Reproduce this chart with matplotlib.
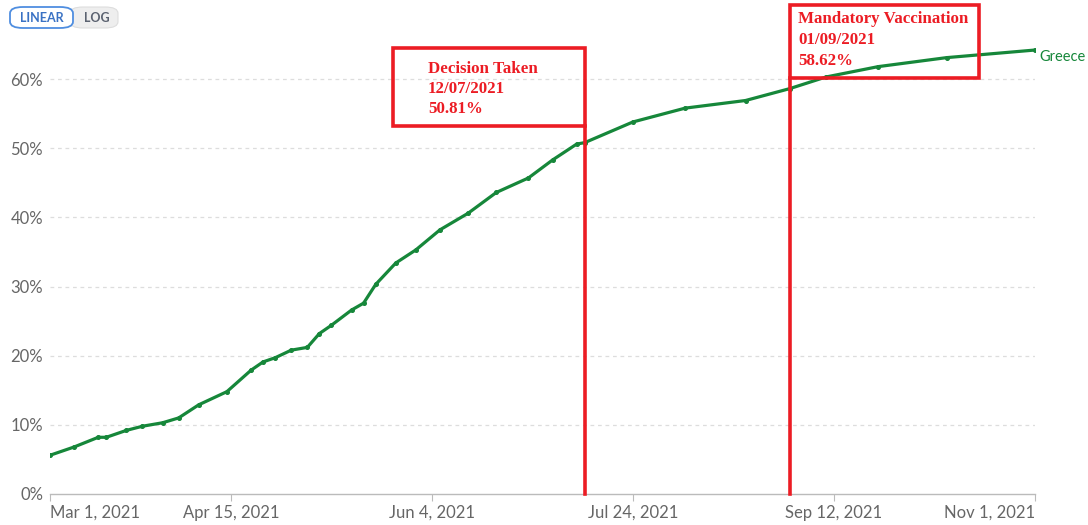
import matplotlib
matplotlib.use("Agg")
import matplotlib.pyplot as plt
import matplotlib.dates as mdates
from matplotlib.patches import Rectangle, FancyBboxPatch
import numpy as np
import datetime as dt

# ---- data ----
dates = ["2021-03-01", "2021-03-07", "2021-03-13", "2021-03-15", "2021-03-20",
         "2021-03-24", "2021-03-29", "2021-04-02", "2021-04-07", "2021-04-14",
         "2021-04-20", "2021-04-23", "2021-04-26", "2021-04-30", "2021-05-04",
         "2021-05-07", "2021-05-10", "2021-05-15", "2021-05-18", "2021-05-21",
         "2021-05-26", "2021-05-31", "2021-06-06", "2021-06-13", "2021-06-20",
         "2021-06-28", "2021-07-04", "2021-07-10", "2021-07-12", "2021-07-24",
         "2021-08-06", "2021-08-21", "2021-09-01", "2021-09-10", "2021-09-23",
         "2021-10-10", "2021-11-01"]
values = [5.6, 6.8, 8.2, 8.2, 9.2,
          9.8, 10.3, 11.0, 12.9, 14.8,
          17.9, 19.1, 19.7, 20.8, 21.2,
          23.2, 24.4, 26.6, 27.6, 30.3,
          33.4, 35.3, 38.2, 40.6, 43.6,
          45.7, 48.3, 50.6, 50.81, 53.8,
          55.8, 56.9, 58.62, 60.3, 61.8,
          63.1, 64.2]
series_name = "Greece"

tick_dates = ["2021-03-01", "2021-04-15", "2021-06-04", "2021-07-24", "2021-09-12", "2021-11-01"]
tick_labels = ["Mar 1, 2021", "Apr 15, 2021", "Jun 4, 2021", "Jul 24, 2021", "Sep 12, 2021", "Nov 1, 2021"]
y_ticks = [0, 10, 20, 30, 40, 50, 60]

event_titles = ["Decision Taken", "Mandatory Vaccination"]
event_dates = ["2021-07-12", "2021-09-01"]
event_date_labels = ["12/07/2021", "01/09/2021"]
event_values = ["50.81%", "58.62%"]

# ---- plot ----
def d(s):
    return mdates.date2num(dt.datetime.strptime(s, "%Y-%m-%d"))

x = np.array([d(s) for s in dates])
W, H = 1088, 525
fig = plt.figure(figsize=(W / 100, H / 100), dpi=100)
ax = fig.add_axes([50 / W, (H - 494) / H, (1035 - 50) / W, 491 / H])
x0, x1 = d("2021-03-01"), d("2021-11-01")
ax.set_xlim(x0, x1)
ax.set_ylim(0, 71)

green = "#16873a"
red = "#ec1c24"
gray = "#666666"

for yt in y_ticks[1:]:
    ax.axhline(yt, color="#dddddd", lw=0.9, ls=(0, (3, 3)), zorder=0)

ax.plot(x, values, color=green, lw=2.3, marker="o", ms=2.6, zorder=3)
ax.text(x[-1] + 1.2, values[-1] - 1.0, series_name, color=green, fontsize=10.5,
        family="Lato", va="center", ha="left", clip_on=False)

for s in ["top", "right", "left"]:
    ax.spines[s].set_visible(False)
ax.spines["bottom"].set_color("#bbbbbb")
ax.spines["bottom"].set_linewidth(1)

ax.set_yticks(y_ticks)
ax.set_yticklabels([f"{v}%" for v in y_ticks], family="Lato", fontsize=12, color=gray)
ax.tick_params(axis="y", length=0, pad=5)
ax.set_xticks([d(s) for s in tick_dates])
ax.set_xticklabels(tick_labels, family="Lato", fontsize=12, color=gray)
ax.tick_params(axis="x", length=5, color="#bbbbbb", pad=3)
lbls = ax.get_xticklabels()
lbls[0].set_ha("left")
lbls[-1].set_ha("right")

# ---- event annotation boxes ----
ypx = lambda p: (494 - p) / 6.915
xpx = lambda p: x0 + (p - 50) / 4.02
boxes = [(393, 48, 126, 428, [69, 89, 109]), (790, 5, 78, 798, [19, 40, 61])]
box_right = [584, 979]
for i, (bl, bt, bb, tx, tys) in enumerate(boxes):
    ex = d(event_dates[i])
    left = xpx(bl)
    right = ex if i == 0 else xpx(box_right[i])
    top, bottom = ypx(bt), ypx(bb)
    ax.add_patch(Rectangle((left, bottom), right - left, top - bottom, fill=False,
                           ec=red, lw=2.6, zorder=5, clip_on=False))
    ax.plot([ex, ex], [0, bottom], color=red, lw=2.6, zorder=5, clip_on=False)
    lines = [event_titles[i], event_date_labels[i], event_values[i]]
    for ln, ty in zip(lines, tys):
        ax.text(xpx(tx), ypx(ty), ln, color=red, fontsize=12.2, family="Liberation Serif",
                weight="bold", va="center", ha="left", zorder=6, clip_on=False)

# ---- LINEAR / LOG toggle ----
fig.patches.append(FancyBboxPatch((70 / W, (H - 28) / H), 48 / W, 21 / H,
                                  boxstyle="round,pad=0,rounding_size=0.012",
                                  transform=fig.transFigure, fc="#eeeeee", ec="#dddddd", lw=0.8))
fig.patches.append(FancyBboxPatch((10 / W, (H - 28) / H), 63 / W, 21 / H,
                                  boxstyle="round,pad=0,rounding_size=0.012",
                                  transform=fig.transFigure, fc="white", ec="#4f8ee0", lw=1.3))
fig.text(41.5 / W, (H - 17.5) / H, "LINEAR", color="#3a72c4", fontsize=9, family="Lato",
         weight="bold", ha="center", va="center")
fig.text(96.5 / W, (H - 17.5) / H, "LOG", color="#5b6270", fontsize=9, family="Lato",
         weight="bold", ha="center", va="center")

fig.savefig("out.png", dpi=100)
